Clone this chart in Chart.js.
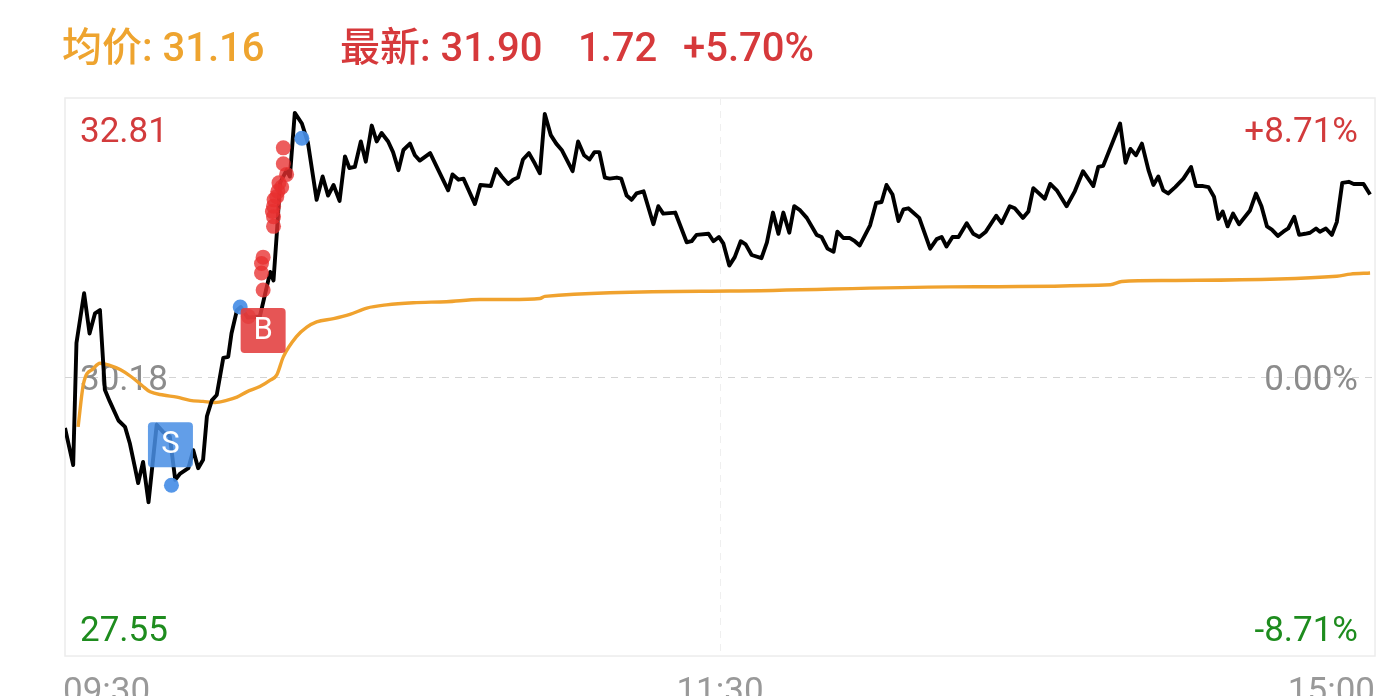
<!DOCTYPE html>
<html><head><meta charset="utf-8">
<script src="https://cdn.jsdelivr.net/npm/chart.js@4.4.1/dist/chart.umd.min.js"></script>
<style>
html,body{margin:0;padding:0;background:#fff;overflow:hidden;width:1399px;height:696px;}
#wrap{position:relative;width:1399px;height:696px;}
canvas{position:absolute;left:0;top:0;}
.hd{position:absolute;top:28px;font-family:Roboto,'Noto Sans CJK SC',sans-serif;font-size:40px;font-weight:500;line-height:40px;white-space:nowrap;}
</style></head><body>
<div id="wrap">
<canvas id="c" width="1399" height="696"></canvas>
<span class="hd" id="hAvg" style="left:62px;color:#eea42f"></span>
<span class="hd" id="hLast" style="left:340px;color:#d6393b"></span>
<span class="hd" id="hChg" style="left:578px;color:#d6393b"></span>
<span class="hd" id="hPct" style="left:683px;color:#d6393b"></span>
</div>
<script>
// ---- header values ----
const avgPriceNow = '31.16';
const lastPrice = '31.90';
const changeAbs = '1.72';
const changePct = '+5.70%';

// ---- axis ticks ----
const yTickValues = [32.81, 30.18, 27.55];
const yTickLabels = ['32.81', '30.18', '27.55'];
const pctLabels = ['+8.71%', '0.00%', '-8.71%'];
const xTickMinutes = [0, 120, 240];
const xTickLabels = ['09:30', '11:30', '15:00'];

// ---- price line (minutes since 09:30, price) ----
const priceTime = [
  0,1.5,2.1,3.5,4.5,5.5,6.4,7.3,8.2,9.8,
  11,11.9,12.8,13.4,14.3,15.3,16.8,18,19.2,20.2,
  21.1,22.6,23.5,24.4,25.3,26,26.9,27.8,29,29.9,
  30.5,31.5,32.2,33.5,35.7,37.6,38.2,38.8,39.4,40.6,
  41.2,42.1,43.4,44.5,46.1,47.2,48.2,49.2,50.3,51.3,
  52.1,53.1,54.2,55.1,56.2,57.1,58,59.2,60.1,61.1,
  62,63.2,64.1,65,66.9,68.4,70.2,71,72.1,73,
  75.1,76.1,78,79,80,81.2,82.1,83,83.9,85,
  86.1,87,87.9,89,90,91,93,94,95.1,96.1,
  97,97.9,98.9,99.8,101.1,101.9,102.9,103.8,104.7,106,
  107.8,108.7,109.6,111.8,113.9,114.8,115.7,117.9,118.8,119.8,
  120.6,121.7,122.7,123.8,124.7,125.8,127.6,128.6,129.7,130.7,
  131.6,132.7,133.6,134.7,135.9,137.7,138.6,139.7,140.8,141.5,
  142.6,143.8,144.7,145.6,147.5,148.6,149.6,150.5,151.6,152.7,
  153.6,154.5,156.5,158.5,159.7,160.6,161.5,162.6,163.7,165.2,
  166.4,167.5,168.7,170.6,171.6,173.1,174,175.5,176.5,177.4,
  179.5,180.5,181.7,183.5,185,186.5,188.4,189.3,190.2,193.3,
  194.3,195.2,196.2,197.3,198.5,199.4,200.3,201.2,202.1,203.4,
  204.9,206.3,207.2,208.5,209.5,210.5,211.3,212.1,213,214,
  215.1,217.1,218.2,219.2,220.2,221.1,222.2,223.2,224.1,225.2,
  226.1,227.2,228.1,229.2,229.9,231,232.1,233,234,235.2,
  236.1,237.9,239.1
];
const priceValue = [
  29.70,29.35,30.50,30.97,30.59,30.78,30.81,30.06,29.95,29.77,
  29.71,29.55,29.33,29.18,29.38,29.00,29.73,29.66,29.62,29.21,
  29.27,29.32,29.49,29.32,29.40,29.81,29.96,30.01,30.36,30.37,
  30.59,30.81,30.84,30.74,30.75,31.17,31.09,31.53,32.01,32.13,
  32.07,32.67,32.57,32.39,31.85,32.07,31.89,31.99,31.84,32.26,
  32.15,32.16,32.40,32.21,32.55,32.40,32.48,32.40,32.30,32.13,
  32.32,32.38,32.27,32.22,32.29,32.13,31.94,32.09,32.04,32.05,
  31.81,31.99,31.98,32.14,32.07,32.00,32.04,32.06,32.23,32.29,
  32.19,32.10,32.66,32.46,32.38,32.32,32.12,32.40,32.27,32.23,
  32.30,32.30,32.06,32.05,32.06,32.05,31.89,31.85,31.91,31.93,
  31.62,31.79,31.72,31.73,31.45,31.46,31.52,31.53,31.46,31.50,
  31.44,31.23,31.31,31.46,31.43,31.33,31.30,31.45,31.73,31.53,
  31.73,31.54,31.79,31.75,31.68,31.52,31.50,31.39,31.36,31.55,
  31.49,31.49,31.46,31.42,31.61,31.82,31.83,31.99,31.90,31.65,
  31.76,31.77,31.68,31.39,31.48,31.50,31.41,31.50,31.50,31.63,
  31.53,31.50,31.55,31.70,31.63,31.79,31.77,31.68,31.74,31.96,
  31.86,32.00,31.94,31.79,31.93,32.12,31.98,32.16,32.17,32.57,
  32.20,32.33,32.27,32.38,32.13,31.99,32.07,31.94,31.91,31.97,
  32.05,32.16,31.98,31.98,31.97,31.88,31.67,31.74,31.60,31.72,
  31.62,31.75,31.91,31.79,31.60,31.57,31.51,31.55,31.58,31.69,
  31.52,31.53,31.54,31.58,31.55,31.58,31.52,31.64,32.01,32.02,
  32.00,32.00,31.90
];

// ---- average price line ----
const avgTime = [
  2.4,3.4,5.2,6.4,8.2,10.1,12.2,14.1,15.6,
  18,20.5,22.9,25.3,27.5,29.6,31.5,33.3,35.7,37.6,
  38.8,40,42.4,44.3,46.1,49.2,52.2,55.3,58.9,63.8,
  69.9,76,81.5,87,87.9,121.8,162.1,191.5,193.6,202.5,
  233,235.5,239.1
];
const avgValue = [
  29.71,30.12,30.26,30.31,30.29,30.25,30.18,30.10,30.04,
  30.01,29.99,29.96,29.95,29.94,29.96,29.99,30.04,30.09,30.15,
  30.20,30.37,30.56,30.65,30.70,30.73,30.77,30.83,30.86,30.88,
  30.89,30.91,30.91,30.92,30.94,30.99,31.03,31.05,31.08,31.09,
  31.13,31.15,31.16
];

// ---- trade dots ----
const buyTime  = [33.6,36.3,36.0,36.0,36.3,38.2,38.2,38.2,38.3,38.8,39.2,39.7,40.0,40.0,40.6,38.0,39.0];
const buyPrice = [30.75,31.00,31.16,31.25,31.31,31.60,31.69,31.79,31.85,31.88,32.01,31.97,32.19,32.34,32.09,31.74,31.93];
const sellTime  = [19.5,32.1,43.4];
const sellPrice = [29.16,30.84,32.43];
const signalLabels = ['S', 'B'];

document.getElementById('hAvg').textContent = '均价: ' + avgPriceNow;
document.getElementById('hLast').textContent = '最新: ' + lastPrice;
document.getElementById('hChg').textContent = changeAbs;
document.getElementById('hPct').textContent = changePct;

const pts = (xs, ys) => xs.map((x, i) => ({x: x, y: ys[i]}));
const FONT = "Roboto, 'Noto Sans CJK SC', sans-serif";

const framePlugin = {
  id: 'frame',
  beforeDatasetsDraw(chart) {
    const ctx = chart.ctx, a = chart.chartArea;
    const xs = chart.scales.x, ys = chart.scales.y;
    ctx.save();
    ctx.strokeStyle = '#ececec';
    ctx.lineWidth = 1.5;
    ctx.strokeRect(a.left, a.top, a.right - a.left, a.bottom - a.top);
    ctx.setLineDash([7, 6]);
    ctx.strokeStyle = '#d4d4d4';
    ctx.lineWidth = 1;
    const ym = Math.round(ys.getPixelForValue(yTickValues[1])) + 0.5;
    ctx.beginPath(); ctx.moveTo(a.left, ym); ctx.lineTo(a.right, ym); ctx.stroke();
    ctx.strokeStyle = '#efefef';
    const xm = Math.round(xs.getPixelForValue(xTickMinutes[1])) + 0.5;
    ctx.beginPath(); ctx.moveTo(xm, a.top); ctx.lineTo(xm, a.bottom); ctx.stroke();
    ctx.setLineDash([]);
    ctx.font = '35px ' + FONT;
    const colors = ['#d23b3c', '#8c8c8c', '#1e8c1e'];
    const yPix = yTickValues.map(v => ys.getPixelForValue(v));
    const base = [yPix[0] + 44, yPix[1] + 13, yPix[2] - 15];
    ctx.textBaseline = 'alphabetic';
    for (let i = 0; i < 3; i++) {
      ctx.fillStyle = colors[i];
      ctx.textAlign = 'left';
      ctx.fillText(yTickLabels[i], a.left + 15, base[i]);
      ctx.textAlign = 'right';
      ctx.fillText(pctLabels[i], a.right - 17, base[i]);
    }
    ctx.fillStyle = '#999999';
    const aligns = ['left', 'center', 'right'];
    const offs = [-2, 0, 0];
    for (let i = 0; i < 3; i++) {
      ctx.textAlign = aligns[i];
      ctx.fillText(xTickLabels[i], xs.getPixelForValue(xTickMinutes[i]) + offs[i], a.bottom + 46);
    }
    ctx.restore();
  },
  afterDatasetsDraw(chart) {
    const ctx = chart.ctx;
    const xs = chart.scales.x, ys = chart.scales.y;
    const box = (cx, top, fill, txt) => {
      const w = 45, h = 45, r = 4, l = cx - w / 2;
      ctx.fillStyle = fill;
      ctx.beginPath();
      ctx.roundRect(l, top, w, h, r);
      ctx.fill();
      ctx.fillStyle = '#ffffff';
      ctx.font = '31px ' + FONT;
      ctx.textAlign = 'center';
      ctx.textBaseline = 'middle';
      ctx.fillText(txt, cx, top + h / 2 + 1);
    };
    ctx.save();
    const sx = xs.getPixelForValue(sellTime[0]), sy = ys.getPixelForValue(sellPrice[0]);
    box(sx - 1, sy - 18 - 45, 'rgba(72,142,228,0.86)', signalLabels[0]);
    const bx = xs.getPixelForValue(buyTime[1]), by = ys.getPixelForValue(buyPrice[1]);
    box(bx, by + 18, 'rgba(226,62,62,0.88)', signalLabels[1]);
    ctx.restore();
  }
};

new Chart(document.getElementById('c'), {
  type: 'scatter',
  data: {
    datasets: [
      {data: pts(sellTime, sellPrice), showLine: false, pointRadius: 7.5, pointBorderWidth: 0,
       backgroundColor: 'rgba(72,142,230,0.92)', order: 0},
      {data: pts(buyTime, buyPrice), showLine: false, pointRadius: 7.5, pointBorderWidth: 0,
       backgroundColor: 'rgba(232,48,48,0.78)', order: 0},
      {data: pts(priceTime, priceValue), showLine: true, borderColor: '#000000', borderWidth: 3.9,
       pointRadius: 0, tension: 0, borderJoinStyle: 'round', order: 1},
      {data: pts(avgTime, avgValue), showLine: true, borderColor: '#f0a22e', borderWidth: 3.4,
       pointRadius: 0, tension: 0.4, cubicInterpolationMode: 'monotone', order: 2}
    ]
  },
  options: {
    responsive: false,
    animation: false,
    layout: {padding: {left: 65, right: 24, top: 98, bottom: 40}},
    scales: {
      x: {type: 'linear', min: xTickMinutes[0], max: xTickMinutes[2], display: false},
      y: {min: yTickValues[2], max: yTickValues[0], display: false}
    },
    plugins: {legend: {display: false}, tooltip: {enabled: false}},
    events: []
  },
  plugins: [framePlugin]
});
</script>
</body></html>
